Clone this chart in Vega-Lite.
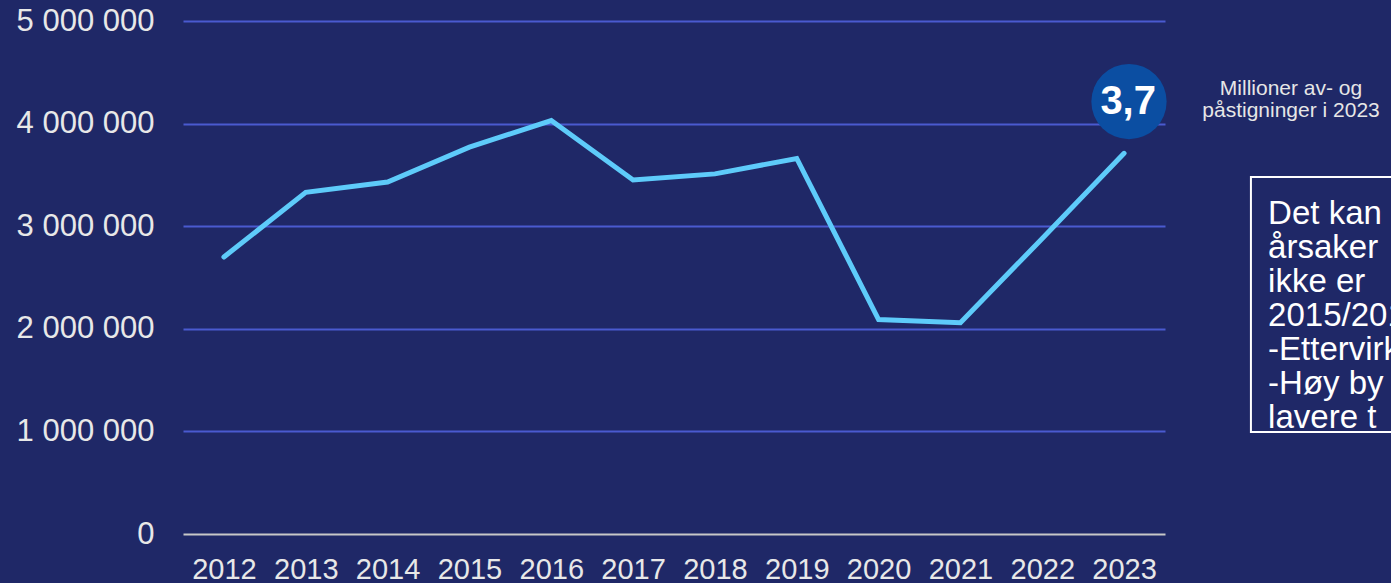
{
  "$schema": "https://vega.github.io/schema/vega-lite/v6.json",
  "width": 982,
  "height": 513,
  "autosize": {"type": "none"},
  "padding": {"left": 183, "top": 21, "right": 226, "bottom": 49},
  "background": "#1f2867",
  "config": {
    "view": {"stroke": null},
    "font": "Liberation Sans",
    "locale": {"number": {"decimal": ",", "thousands": " ", "grouping": [3], "currency": ["", ""]}}
  },
  "datasets": {
    "ridership": [
      {"year": 2012, "passengers": 2700000},
      {"year": 2013, "passengers": 3330000},
      {"year": 2014, "passengers": 3430000},
      {"year": 2015, "passengers": 3770000},
      {"year": 2016, "passengers": 4030000},
      {"year": 2017, "passengers": 3450000},
      {"year": 2018, "passengers": 3510000},
      {"year": 2019, "passengers": 3660000},
      {"year": 2020, "passengers": 2090000},
      {"year": 2021, "passengers": 2060000},
      {"year": 2022, "passengers": 2880000},
      {"year": 2023, "passengers": 3710000}
    ]
  },
  "layer": [
    {
      "data": {"name": "ridership"},
      "mark": {"type": "line", "color": "#5ecbfa", "strokeWidth": 5, "strokeCap": "round"},
      "encoding": {
        "x": {
          "field": "year", "type": "quantitative",
          "scale": {"domain": [2011.5, 2023.5], "nice": false, "zero": false},
          "axis": {
            "values": [2012, 2013, 2014, 2015, 2016, 2017, 2018, 2019, 2020, 2021, 2022, 2023],
            "format": "d", "labelFontSize": 29, "labelColor": "#e8e8e8", "labelPadding": 21,
            "ticks": false, "domain": false, "grid": false, "title": null,
            "labelFlush": false, "labelOverlap": false, "labelFont": "Liberation Sans"
          }
        },
        "y": {
          "field": "passengers", "type": "quantitative",
          "scale": {"domain": [0, 5000000], "nice": false},
          "axis": {
            "values": [0, 1000000, 2000000, 3000000, 4000000, 5000000],
            "format": ",d", "labelFontSize": 31, "labelColor": "#e8e8e8", "labelPadding": 29,
            "ticks": false, "tickSize": 0, "domain": false, "title": null, "labelFont": "Liberation Sans",
            "gridColor": {"condition": {"test": "datum.value === 0", "value": "#c8c8c8"}, "value": "#4a5ad0"},
            "gridWidth": 2
          }
        }
      }
    },
    {
      "data": {"values": [{}]},
      "mark": {"type": "circle", "size": 5670, "color": "#0b4ea2", "opacity": 1},
      "encoding": {
        "x": {"datum": 2023.06, "type": "quantitative"},
        "y": {"datum": 4215000, "type": "quantitative"}
      }
    },
    {
      "data": {"values": [{"label": "3,7"}]},
      "mark": {"type": "text", "fontSize": 40, "fontWeight": "bold", "color": "#ffffff", "align": "center", "baseline": "alphabetic"},
      "encoding": {
        "x": {"datum": 2023.05, "type": "quantitative"},
        "y": {"datum": 4090000, "type": "quantitative"},
        "text": {"field": "label"}
      }
    },
    {
      "data": {"values": [{}]},
      "mark": {"type": "text", "text": ["Millioner av- og", "påstigninger i 2023"], "fontSize": 21, "lineHeight": 22, "color": "#e6e6e6", "align": "center", "baseline": "alphabetic"},
      "encoding": {
        "x": {"datum": 2025.04, "type": "quantitative"},
        "y": {"datum": 4280000, "type": "quantitative"}
      }
    },
    {
      "data": {"values": [{}]},
      "mark": {"type": "rect", "fill": null, "fillOpacity": 0, "stroke": "#ffffff", "strokeWidth": 2},
      "encoding": {
        "x": {"datum": 2024.55, "type": "quantitative"},
        "x2": {"datum": 2027.5},
        "y": {"datum": 3480000, "type": "quantitative"},
        "y2": {"datum": 994000}
      }
    },
    {
      "data": {"values": [{}]},
      "mark": {"type": "text", "text": ["Det kan", "årsaker", "ikke er", "2015/2016", "-Ettervirkninger", "-Høy by", "lavere t"], "fontSize": 33, "lineHeight": 34, "color": "#ffffff", "align": "left", "baseline": "alphabetic"},
      "encoding": {
        "x": {"datum": 2024.76, "type": "quantitative"},
        "y": {"datum": 3020000, "type": "quantitative"}
      }
    }
  ]
}
